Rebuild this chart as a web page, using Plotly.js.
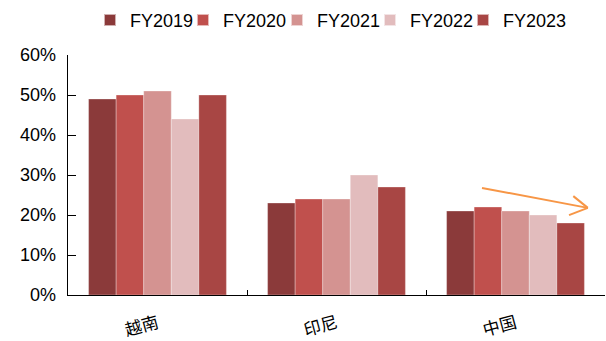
<!DOCTYPE html>
<html><head><meta charset="utf-8">
<script src="https://cdn.plot.ly/plotly-3.0.1.min.js"></script>
<style>html,body{margin:0;padding:0;background:#fff}#c{width:606px;height:341px}</style>
</head><body><div id="c"></div>
<script>
const categories = ["越南", "印尼", "中国"];
const seriesNames = ["FY2019", "FY2020", "FY2021", "FY2022", "FY2023"];
const fy2019 = [0.49, 0.23, 0.21];
const fy2020 = [0.50, 0.24, 0.22];
const fy2021 = [0.51, 0.24, 0.21];
const fy2022 = [0.44, 0.30, 0.20];
const fy2023 = [0.50, 0.27, 0.18];
const yTicks = [0, 0.1, 0.2, 0.3, 0.4, 0.5, 0.6];
const yTickLabels = ["0%", "10%", "20%", "30%", "40%", "50%", "60%"];
const colors = ["#8B3A3A", "#C0504D", "#D49391", "#E2BCBD", "#A84644"];
const allSeries = [fy2019, fy2020, fy2021, fy2022, fy2023];
const legendIds = ["legend", "legend2", "legend3", "legend4", "legend5"];
const legendX = [0.041, 0.2141, 0.3892, 0.5624, 0.7356];

const traces = allSeries.map((vals, i) => ({
  type: "bar", name: seriesNames[i], x: categories, y: vals,
  legend: legendIds[i],
  marker: {color: colors[i], line: {color: "rgba(255,255,255,0.6)", width: 0.5}},
  hoverinfo: "skip"
}));

const layout = {
  width: 606, height: 341,
  margin: {l: 68, r: 1, t: 55, b: 46, autoexpand: false},
  paper_bgcolor: "#fff", plot_bgcolor: "#fff",
  font: {family: "Liberation Sans, Arial, sans-serif", color: "#000", size: 18},
  barmode: "group", bargap: 0.23, bargroupgap: 0,
  showlegend: true,
  xaxis: {
    type: "category", showline: true, linecolor: "#000", linewidth: 1.3,
    ticks: "inside", tickson: "boundaries", ticklen: 5, tickcolor: "#000",
    tickangle: -15, tickfont: {family: "Noto Sans CJK SC", size: 17, color: "#000"},
    showgrid: false, zeroline: false, ticklabelstandoff: 11, automargin: false
  },
  yaxis: {
    range: [0, 0.6], tickvals: yTicks, ticktext: yTickLabels,
    showline: true, linecolor: "#000", linewidth: 1.3,
    ticks: "inside", ticklen: 8, tickcolor: "#000",
    showgrid: false, zeroline: false, tickfont: {size: 18},
    ticklabelstandoff: 7, automargin: false
  },
  shapes: [
    {type: "line", xref: "paper", yref: "paper", x0: 0.771, y0: 0.446, x1: 0.968, y1: 0.363,
     line: {color: "#F79646", width: 2}},
    {type: "line", xref: "paper", yref: "paper", x0: 0.941, y0: 0.412, x1: 0.968, y1: 0.363,
     line: {color: "#F79646", width: 2}},
    {type: "line", xref: "paper", yref: "paper", x0: 0.933, y0: 0.333, x1: 0.968, y1: 0.363,
     line: {color: "#F79646", width: 2}}
  ]
};
legendIds.forEach((id, i) => {
  layout[id] = {orientation: "h", xanchor: "left", x: legendX[i], y: 0.995, yanchor: "top",
    yref: "container", font: {size: 18}, bgcolor: "rgba(0,0,0,0)", itemsizing: "constant"};
});
Plotly.newPlot("c", traces, layout, {displayModeBar: false, staticPlot: true});
</script></body></html>
